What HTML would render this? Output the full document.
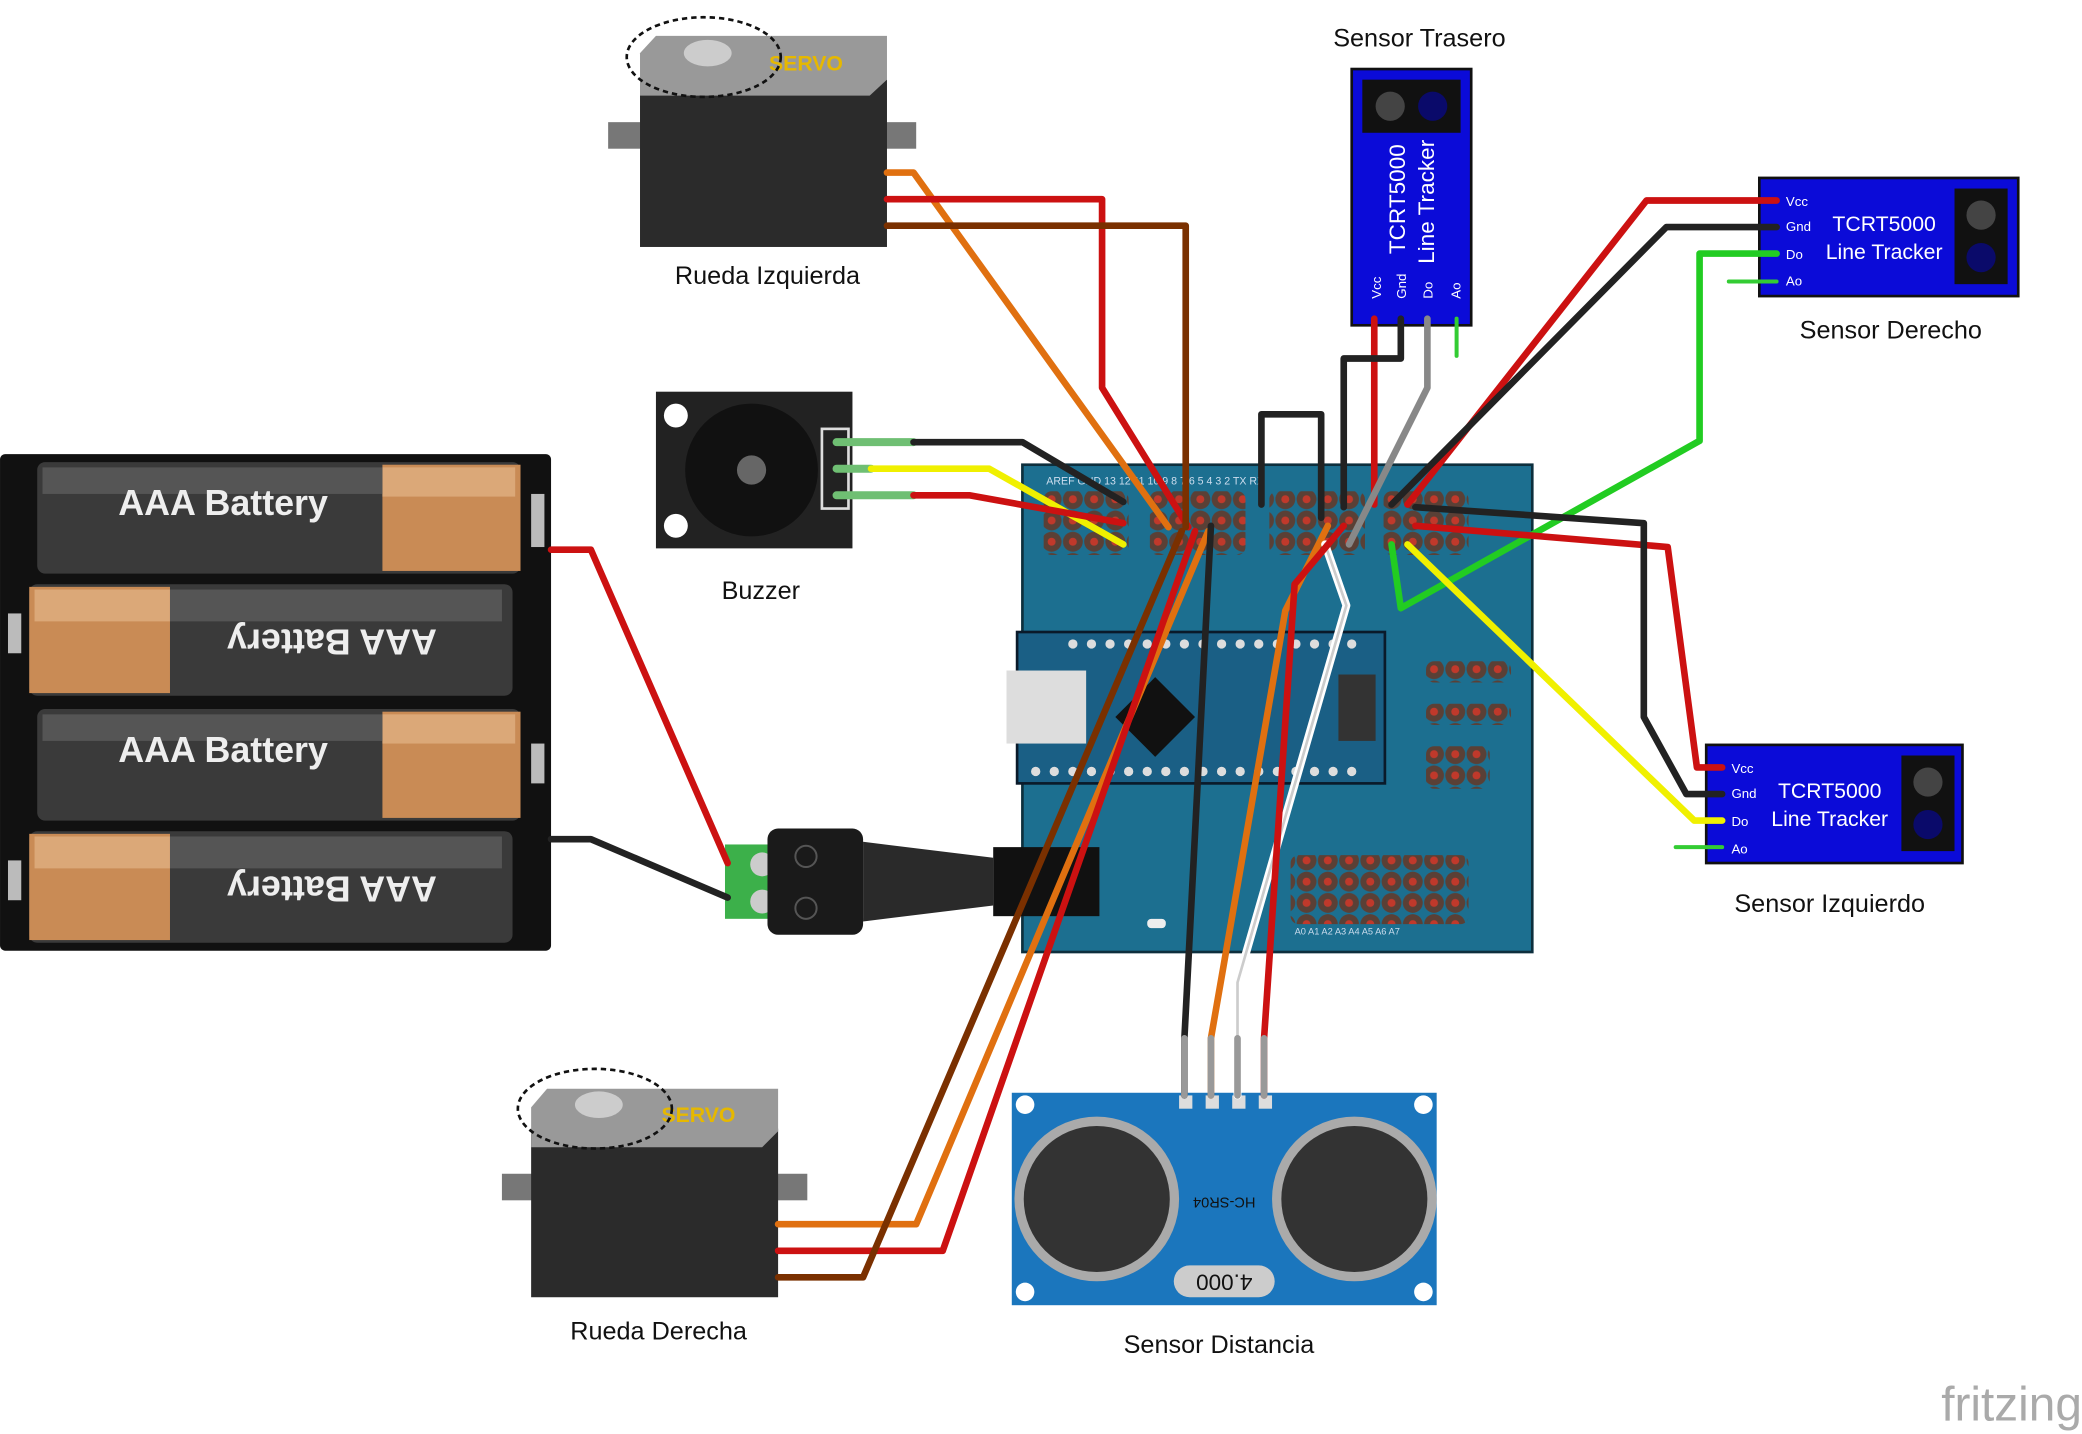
<!DOCTYPE html>
<html><head><meta charset="utf-8"><style>
html,body{margin:0;padding:0;background:#fff;width:2082px;height:1434px;overflow:hidden}
svg{display:block}
text{font-family:"Liberation Sans","DejaVu Sans",sans-serif}
</style></head><body>
<svg width="2082" height="1434" viewBox="0 0 1568 1080" xmlns="http://www.w3.org/2000/svg">
<defs>
<pattern id="pins" x="0" y="0" width="16" height="16" patternUnits="userSpaceOnUse">
 <rect width="16" height="16" fill="#1c6f90"/>
 <circle cx="8" cy="8" r="7.5" fill="#5a4036"/>
 <circle cx="8" cy="8" r="3" fill="#c0392b"/>
</pattern>
</defs>
<rect width="1568" height="1080" fill="#fff"/>

<!-- Battery pack -->
<rect x="0" y="342" width="415" height="374" rx="4" fill="#111"/>
<g>
 <rect x="28" y="348" width="364" height="84" rx="6" fill="#3a3a3a"/>
 <rect x="288" y="350" width="104" height="80" fill="#c98b55"/>
 <rect x="288" y="352" width="100" height="22" fill="#dba878"/>
 <rect x="32" y="352" width="256" height="20" fill="#555"/>
 <text x="168" y="388" font-size="27" font-weight="bold" fill="#eee" text-anchor="middle">AAA Battery</text>
 <rect x="22" y="440" width="364" height="84" rx="6" fill="#3a3a3a"/>
 <rect x="22" y="442" width="106" height="80" fill="#c98b55"/>
 <rect x="26" y="444" width="102" height="24" fill="#dba878"/>
 <rect x="128" y="444" width="250" height="24" fill="#555"/>
 <text x="250" y="490" font-size="27" font-weight="bold" fill="#eee" text-anchor="middle" transform="rotate(180 250 482)">AAA Battery</text>
 <rect x="28" y="534" width="364" height="84" rx="6" fill="#3a3a3a"/>
 <rect x="288" y="536" width="104" height="80" fill="#c98b55"/>
 <rect x="288" y="538" width="100" height="22" fill="#dba878"/>
 <rect x="32" y="538" width="256" height="20" fill="#555"/>
 <text x="168" y="574" font-size="27" font-weight="bold" fill="#eee" text-anchor="middle">AAA Battery</text>
 <rect x="22" y="626" width="364" height="84" rx="6" fill="#3a3a3a"/>
 <rect x="22" y="628" width="106" height="80" fill="#c98b55"/>
 <rect x="26" y="630" width="102" height="24" fill="#dba878"/>
 <rect x="128" y="630" width="250" height="24" fill="#555"/>
 <text x="250" y="676" font-size="27" font-weight="bold" fill="#eee" text-anchor="middle" transform="rotate(180 250 668)">AAA Battery</text>
 <rect x="400" y="372" width="10" height="40" fill="#bbb"/>
 <rect x="400" y="560" width="10" height="30" fill="#bbb"/>
 <rect x="6" y="462" width="10" height="30" fill="#bbb"/>
 <rect x="6" y="648" width="10" height="30" fill="#bbb"/>
</g>

<!-- Servo top -->
<g>
 <rect x="458" y="92" width="232" height="20" fill="#777"/>
 <rect x="482" y="60" width="186" height="126" fill="#2b2b2b"/>
 <polygon points="482,40 494,27 668,27 668,60 655,72 482,72" fill="#999"/>
 <ellipse cx="533" cy="40" rx="18" ry="10" fill="#ccc"/>
 <text x="607" y="53" font-size="16" font-weight="bold" fill="#e6b800" text-anchor="middle">SERVO</text>
 <ellipse cx="530" cy="43" rx="58" ry="30" fill="none" stroke="#111" stroke-width="2" stroke-dasharray="4,3"/>
 <text x="578" y="214" font-size="19" fill="#111" text-anchor="middle">Rueda Izquierda</text>
</g>

<!-- Servo bottom -->
<g>
 <rect x="378" y="884" width="230" height="20" fill="#777"/>
 <rect x="400" y="850" width="186" height="127" fill="#2b2b2b"/>
 <polygon points="400,834 412,820 586,820 586,852 574,864 400,864" fill="#999"/>
 <ellipse cx="451" cy="832" rx="18" ry="10" fill="#ccc"/>
 <text x="526" y="845" font-size="16" font-weight="bold" fill="#e6b800" text-anchor="middle">SERVO</text>
 <ellipse cx="448" cy="835" rx="58" ry="30" fill="none" stroke="#111" stroke-width="2" stroke-dasharray="4,3"/>
 <text x="496" y="1009" font-size="19" fill="#111" text-anchor="middle">Rueda Derecha</text>
</g>

<!-- Buzzer -->
<g>
 <rect x="494" y="295" width="148" height="118" fill="#222"/>
 <circle cx="566" cy="354" r="50" fill="#111"/>
 <circle cx="566" cy="354" r="11" fill="#666"/>
 <circle cx="509" cy="313" r="9" fill="#fff"/>
 <circle cx="509" cy="396" r="9" fill="#fff"/>
 <rect x="619" y="323" width="20" height="60" fill="none" stroke="#ddd" stroke-width="2"/>
 <text x="573" y="451" font-size="19" fill="#111" text-anchor="middle">Buzzer</text>
</g>

<!-- Shield -->
<rect x="770" y="350" width="384" height="367" fill="#1c6f90" stroke="#0d2f3d" stroke-width="2"/>
<g fill="url(#pins)">
 <rect x="786" y="370" width="64" height="48" rx="6"/>
 <rect x="866" y="370" width="72" height="48" rx="6"/>
 <rect x="956" y="370" width="72" height="48" rx="6"/>
 <rect x="1042" y="370" width="64" height="48" rx="6"/>
 <rect x="1074" y="498" width="64" height="16" rx="6"/>
 <rect x="1074" y="530" width="64" height="16" rx="6"/>
 <rect x="1074" y="562" width="48" height="32" rx="6"/>
 <rect x="972" y="644" width="134" height="52" rx="6"/>
</g>
<text x="788" y="365" font-size="8" fill="#cde">AREF GND 13 12 11 10 9 8 7 6 5 4 3 2 TX RX</text>
<text x="975" y="704" font-size="7" fill="#cde">A0 A1 A2 A3 A4 A5 A6 A7</text>
<rect x="864" y="692" width="14" height="7" rx="3" fill="#eee"/>
<!-- Nano -->
<rect x="766" y="476" width="277" height="114" fill="#1a5f85" stroke="#0a1a2a" stroke-width="2"/>
<rect x="758" y="505" width="60" height="55" fill="#ddd"/>
<polygon points="840,540 870,510 900,540 870,570" fill="#111"/>
<rect x="1008" y="508" width="28" height="50" fill="#333"/>
<g fill="#ddd">
 <circle cx="808" cy="485" r="3.5"/><circle cx="822" cy="485" r="3.5"/><circle cx="836" cy="485" r="3.5"/><circle cx="850" cy="485" r="3.5"/><circle cx="864" cy="485" r="3.5"/><circle cx="878" cy="485" r="3.5"/><circle cx="892" cy="485" r="3.5"/><circle cx="906" cy="485" r="3.5"/><circle cx="920" cy="485" r="3.5"/><circle cx="934" cy="485" r="3.5"/><circle cx="948" cy="485" r="3.5"/><circle cx="962" cy="485" r="3.5"/><circle cx="976" cy="485" r="3.5"/><circle cx="990" cy="485" r="3.5"/><circle cx="1004" cy="485" r="3.5"/><circle cx="1018" cy="485" r="3.5"/>
 <circle cx="780" cy="581" r="3.5"/><circle cx="794" cy="581" r="3.5"/><circle cx="808" cy="581" r="3.5"/><circle cx="822" cy="581" r="3.5"/><circle cx="836" cy="581" r="3.5"/><circle cx="850" cy="581" r="3.5"/><circle cx="864" cy="581" r="3.5"/><circle cx="878" cy="581" r="3.5"/><circle cx="892" cy="581" r="3.5"/><circle cx="906" cy="581" r="3.5"/><circle cx="920" cy="581" r="3.5"/><circle cx="934" cy="581" r="3.5"/><circle cx="948" cy="581" r="3.5"/><circle cx="962" cy="581" r="3.5"/><circle cx="976" cy="581" r="3.5"/><circle cx="990" cy="581" r="3.5"/><circle cx="1004" cy="581" r="3.5"/><circle cx="1018" cy="581" r="3.5"/>
</g>

<!-- DC jack -->
<rect x="546" y="636" width="44" height="56" fill="#3cb04a"/>
<circle cx="574" cy="651" r="9" fill="#ccc"/><circle cx="574" cy="679" r="9" fill="#ccc"/>
<rect x="578" y="624" width="72" height="80" rx="8" fill="#1a1a1a"/>
<polygon points="650,634 748,646 748,682 650,694" fill="#2a2a2a"/>
<rect x="748" y="638" width="80" height="52" fill="#111"/>
<circle cx="607" cy="645" r="8" fill="none" stroke="#555" stroke-width="1.5"/>
<circle cx="607" cy="684" r="8" fill="none" stroke="#555" stroke-width="1.5"/>

<!-- Ultrasonic -->
<rect x="762" y="823" width="320" height="160" fill="#1b76bd"/>
<circle cx="772" cy="832" r="7" fill="#fff"/><circle cx="1072" cy="832" r="7" fill="#fff"/>
<circle cx="772" cy="973" r="7" fill="#fff"/><circle cx="1072" cy="973" r="7" fill="#fff"/>
<circle cx="826" cy="903" r="62" fill="#aaa"/><circle cx="826" cy="903" r="55" fill="#333"/>
<circle cx="1020" cy="903" r="62" fill="#aaa"/><circle cx="1020" cy="903" r="55" fill="#333"/>
<rect x="884" y="953" width="76" height="24" rx="12" fill="#ccc"/>
<text x="922" y="972" font-size="17" fill="#111" text-anchor="middle" transform="rotate(180 922 966)">4.000</text>
<text x="922" y="910" font-size="11" fill="#111" text-anchor="middle" transform="rotate(180 922 906)">HC-SR04</text>
<g fill="#ddd"><rect x="888" y="825" width="10" height="10"/><rect x="908" y="825" width="10" height="10"/><rect x="928" y="825" width="10" height="10"/><rect x="948" y="825" width="10" height="10"/></g>
<text x="918" y="1019" font-size="19" fill="#111" text-anchor="middle">Sensor Distancia</text>

<!-- Sensor Trasero -->
<rect x="1018" y="52" width="90" height="193" fill="#0b0bd8" stroke="#111" stroke-width="2"/>
<rect x="1026" y="60" width="74" height="40" fill="#111"/>
<circle cx="1047" cy="80" r="11" fill="#444"/><circle cx="1079" cy="80" r="11" fill="#0a0a6a"/>
<text x="1058" y="150" font-size="17" fill="#fff" text-anchor="middle" transform="rotate(-90 1058 150)">TCRT5000</text>
<text x="1080" y="152" font-size="17" fill="#fff" text-anchor="middle" transform="rotate(-90 1080 152)">Line Tracker</text>
<g font-size="10" fill="#fff"><text transform="translate(1040,225) rotate(-90)">Vcc</text><text transform="translate(1059,225) rotate(-90)">Gnd</text><text transform="translate(1079,225) rotate(-90)">Do</text><text transform="translate(1100,225) rotate(-90)">Ao</text></g>
<text x="1069" y="35" font-size="19" fill="#111" text-anchor="middle">Sensor Trasero</text>

<!-- Sensor Derecho -->
<rect x="1325" y="134" width="195" height="89" fill="#0b0bd8" stroke="#111" stroke-width="2"/>
<rect x="1472" y="142" width="40" height="72" fill="#111"/>
<circle cx="1492" cy="162" r="11" fill="#444"/><circle cx="1492" cy="194" r="11" fill="#0a0a6a"/>
<text x="1419" y="174" font-size="16" fill="#fff" text-anchor="middle">TCRT5000</text>
<text x="1419" y="195" font-size="16" fill="#fff" text-anchor="middle">Line Tracker</text>
<g font-size="10" fill="#fff"><text x="1345" y="155">Vcc</text><text x="1345" y="174">Gnd</text><text x="1345" y="195">Do</text><text x="1345" y="215">Ao</text></g>
<text x="1424" y="255" font-size="19" fill="#111" text-anchor="middle">Sensor Derecho</text>

<!-- Sensor Izquierdo -->
<rect x="1285" y="561" width="193" height="89" fill="#0b0bd8" stroke="#111" stroke-width="2"/>
<rect x="1432" y="569" width="40" height="72" fill="#111"/>
<circle cx="1452" cy="589" r="11" fill="#444"/><circle cx="1452" cy="621" r="11" fill="#0a0a6a"/>
<text x="1378" y="601" font-size="16" fill="#fff" text-anchor="middle">TCRT5000</text>
<text x="1378" y="622" font-size="16" fill="#fff" text-anchor="middle">Line Tracker</text>
<g font-size="10" fill="#fff"><text x="1304" y="582">Vcc</text><text x="1304" y="601">Gnd</text><text x="1304" y="622">Do</text><text x="1304" y="643">Ao</text></g>
<text x="1378" y="687" font-size="19" fill="#111" text-anchor="middle">Sensor Izquierdo</text>

<!-- Wires -->
<g fill="none" stroke-width="5" stroke-linejoin="round" stroke-linecap="round">
 <path d="M630,333 H688 M630,353 H656 M630,373 H688" stroke="#6fbf73" stroke-width="6"/>
 <path d="M688,333 H770 L846,378" stroke="#222"/>
 <path d="M656,353 H745 L846,410" stroke="#f0f000"/>
 <path d="M688,373 H730 L846,394" stroke="#cc1111"/>
 <path d="M415,414 H445 L548,650" stroke="#cc1111"/>
 <path d="M415,632 H445 L548,676" stroke="#222"/>
 <path d="M668,130 H688 L880,397" stroke="#e07010"/>
 <path d="M668,150 H830 V292 L895,397" stroke="#cc1111"/>
 <path d="M668,170 H893 V397" stroke="#7a3000"/>
 <path d="M586,922 H690 L910,400" stroke="#e07010"/>
 <path d="M586,942 H710 L900,400" stroke="#cc1111"/>
 <path d="M586,962 H650 L890,400" stroke="#7a3000"/>
 <path d="M892,825 V782 L912,396" stroke="#222"/>
 <path d="M912,825 V782 L968,460 L1000,396" stroke="#e07010"/>
 <path d="M932,825 V740 L1014,456 L998,410" stroke="#fff" stroke-width="6"/>
 <path d="M932,825 V740 L1014,456 L998,410" stroke="#ccc" stroke-width="2"/>
 <path d="M952,825 V782 L975,440 L1012,396" stroke="#cc1111"/>
 <path d="M892,825 V782 M912,825 V782 M932,825 V782 M952,825 V782" stroke="#999"/>
 <path d="M950,380 V312 H995 V390" stroke="#222"/>
 <path d="M1035,240 V380" stroke="#cc1111"/>
 <path d="M1055,240 V270 H1012 V382" stroke="#222"/>
 <path d="M1075,240 V292 L1016,410" stroke="#888"/>
 <path d="M1097,240 V268" stroke="#3c3" stroke-width="3"/>
 <path d="M1338,151 H1240 L1060,380" stroke="#cc1111"/>
 <path d="M1338,171 H1255 L1048,380" stroke="#222"/>
 <path d="M1338,191 H1280 V332 L1055,458 L1048,410" stroke="#22cc22"/>
 <path d="M1338,212 H1302" stroke="#3c3" stroke-width="3"/>
 <path d="M1297,578 H1278 L1256,412 L1066,396" stroke="#cc1111"/>
 <path d="M1297,598 H1270 L1238,540 V394 L1066,382" stroke="#222"/>
 <path d="M1297,618 H1276 L1060,410" stroke="#f0f000"/>
 <path d="M1297,638 H1262" stroke="#3c3" stroke-width="3"/>
</g>

<text x="1568" y="1070" font-size="36" fill="#aaa" text-anchor="end">fritzing</text>
</svg>
</body></html>
